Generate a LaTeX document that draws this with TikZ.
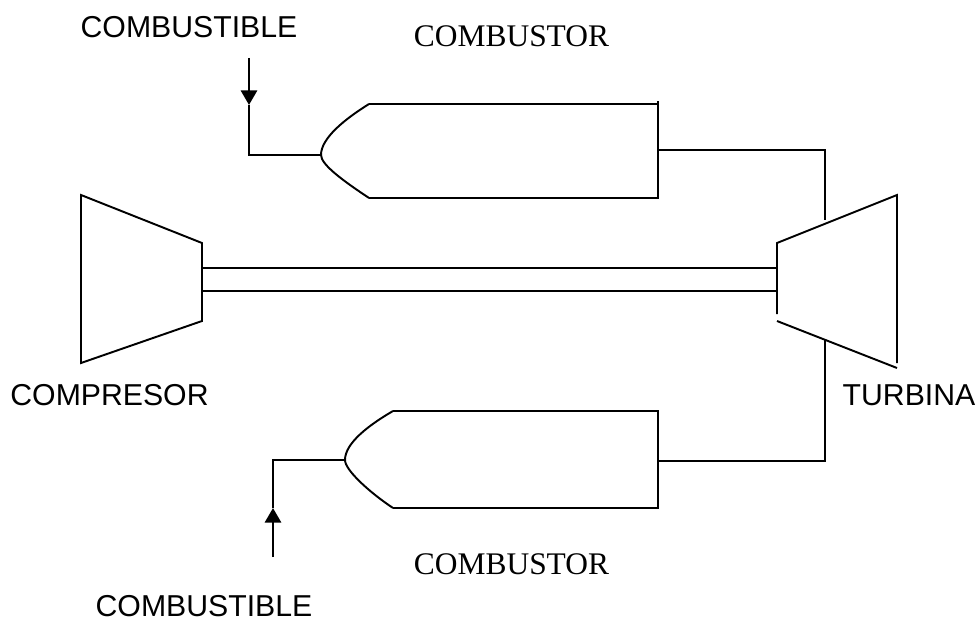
\documentclass[tikz,border=0pt]{standalone}
\usepackage{fontspec}
\usetikzlibrary{arrows.meta}
\newfontfamily\labelsans{Liberation Sans}
\newfontfamily\labelserif{Liberation Serif}
\tikzset{
  sanslabel/.style={font=\labelsans\fontsize{17.2}{20}\selectfont, inner sep=0pt},
  seriflabel/.style={font=\labelserif\fontsize{17.9}{20}\selectfont, inner sep=0pt},
  feed/.style={line width=1.5pt, -{Triangle[length=0.29cm,width=0.32cm]}}
}
\begin{document}
\begin{tikzpicture}[line width=1.1pt]
  \useasboundingbox (0,0) rectangle (19.6,12.46);
  \node[sanslabel] (fuela) at (3.78,11.92) {COMBUSTIBLE};
  \node[seriflabel] (burna) at (10.23,11.73) {COMBUSTOR};
  \node[sanslabel] (comp) at (2.19,4.56) {COMPRESOR};
  \node[sanslabel] (turb) at (18.18,4.56) {TURBINA};
  \node[seriflabel] (burnb) at (10.23,1.17) {COMBUSTOR};
  \node[sanslabel] (fuelb) at (4.08,0.34) {COMBUSTIBLE};
  % upper combustor
  \coordinate (a) at (4.98,11.3);
  \coordinate (b) at (4.98,10.36);
  \coordinate (c) at (4.98,9.36);
  \coordinate (d) at (6.42,9.36);
  \coordinate (e) at (7.38,10.38);
  \coordinate (f) at (7.38,8.5);
  \coordinate (g) at (13.16,10.38);
  \coordinate (h) at (13.16,8.5);
  \coordinate (i) at (13.16,10.44);
  \coordinate (j) at (13.16,9.46);
  \coordinate (k) at (16.5,9.46);
  \coordinate (l) at (16.5,8.06);
  \draw[feed] (a) -- (b);
  \draw (b) -- (c) -- (d);
  \draw (e) .. controls (6.9,10.08) and (6.42,9.7) .. (d)
    .. controls (6.42,9.16) and (6.9,8.82) .. (f);
  \draw (e) -- (g) (f) -- (h) -- (i);
  \draw (j) -- (k) -- (l);
  % compressor, shaft, turbine
  \coordinate (ca) at (1.62,8.56);
  \coordinate (cb) at (4.04,7.6);
  \coordinate (cc) at (4.04,6.04);
  \coordinate (cd) at (1.62,5.2);
  \coordinate (sa) at (4.04,7.1);
  \coordinate (sb) at (4.04,6.64);
  \coordinate (ta) at (15.54,7.1);
  \coordinate (tb) at (15.54,6.64);
  \coordinate (tc) at (15.54,7.6);
  \coordinate (td) at (17.94,8.56);
  \coordinate (te) at (17.94,5.2);
  \coordinate (tf) at (17.94,5.1);
  \coordinate (tg) at (15.54,6.04);
  \coordinate (th) at (15.54,6.18);
  \draw (ca) -- (cb) -- (cc) -- (cd) -- cycle;
  \draw (sa) -- (ta) (sb) -- (tb);
  \draw (th) -- (tc) -- (td) -- (te);
  \draw (tg) -- (tf);
  % lower combustor
  \coordinate (m) at (5.46,1.32);
  \coordinate (n) at (5.46,2.3);
  \coordinate (o) at (5.46,3.26);
  \coordinate (p) at (6.9,3.26);
  \coordinate (q) at (7.86,4.24);
  \coordinate (r) at (7.86,2.3);
  \coordinate (s) at (13.16,4.24);
  \coordinate (t) at (13.16,2.3);
  \coordinate (u) at (13.16,3.24);
  \coordinate (v) at (16.5,3.24);
  \coordinate (w) at (16.5,5.66);
  \draw[feed] (m) -- (n);
  \draw (n) -- (o) -- (p);
  \draw (q) .. controls (7.38,3.96) and (6.9,3.6) .. (p)
    .. controls (6.9,3.06) and (7.38,2.62) .. (r);
  \draw (q) -- (s) -- (t) -- (r);
  \draw (u) -- (v) -- (w);
\end{tikzpicture}
\end{document}
